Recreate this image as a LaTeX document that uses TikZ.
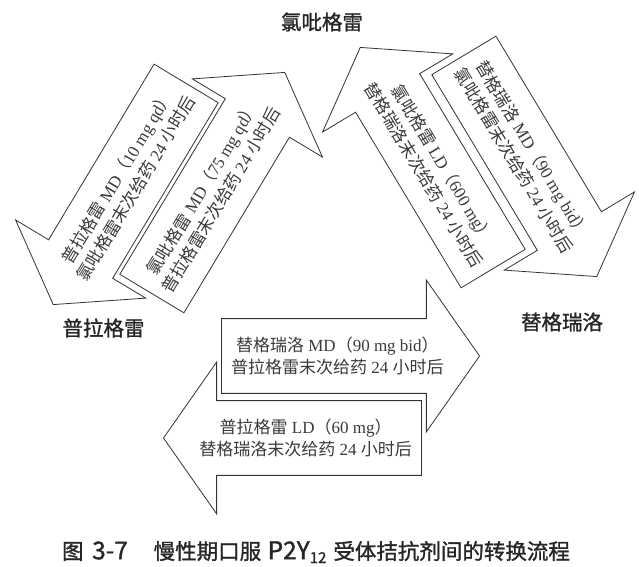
\documentclass[tikz,border=0pt]{standalone}
\usepackage{fontspec}
\setmainfont{Liberation Serif}
\newfontfamily\zhfont{Noto Sans CJK SC}
\newfontfamily\zhmed[FakeBold=1.3]{Noto Sans CJK SC}
\usetikzlibrary{shapes.arrows}
\definecolor{ArrowLine}{HTML}{333333}
\definecolor{ArrowText}{HTML}{3A3A3A}
\newcommand{\zh}[1]{{\zhfont #1}}
\newcommand{\capl}[1]{{\fontsize{24.5}{26}\selectfont #1}}

\begin{document}
\begin{tikzpicture}[
  x=1pt, y=1pt,
  blockarrow/.style={single arrow, draw=ArrowLine, line width=0.8pt, fill=white,
    align=center, text=ArrowText, font=\fontsize{17}{22}\selectfont,
    minimum height=258pt, inner ysep=18pt, inner xsep=2pt,
    single arrow head extend=38.5pt, single arrow tip angle=110, anchor=tip},
  back/.style={shape border rotate=180},
  drug/.style={font=\zhmed\fontsize{20.5}{24}\selectfont, text=black!85},
  caption/.style={font=\zhmed\fontsize{21.5}{25}\selectfont, text=black!85}
]
\useasboundingbox (0,0) rectangle (639,566);

% clopidogrel <-> prasugrel
\node[blockarrow, back, rotate=59] (pmd) at (53,261)
  {\zh{普拉格雷} MD\zh{（}10 mg qd\zh{）}\\\zh{氯吡格雷末次给药} 24 \zh{小时后}};
\node[blockarrow, rotate=59] (cmd) at (285,494)
  {\zh{氯吡格雷} MD\zh{（}75 mg qd\zh{）}\\\zh{普拉格雷末次给药} 24 \zh{小时后}};

% clopidogrel <-> ticagrelor
\node[blockarrow, back, rotate=-59] (cld) at (360,519)
  {\zh{氯吡格雷} LD\zh{（}600 mg\zh{）}\\\zh{替格瑞洛末次给药} 24 \zh{小时后}};
\node[blockarrow, rotate=-59] (tmda) at (597,289)
  {\zh{替格瑞洛} MD\zh{（}90 mg bid\zh{）}\\\zh{氯吡格雷末次给药} 24 \zh{小时后}};

% prasugrel <-> ticagrelor
\node[blockarrow] (tmdb) at (480,210)
  {\zh{替格瑞洛} MD\zh{（}90 mg bid\zh{）}\\\zh{普拉格雷末次给药} 24 \zh{小时后}};
\node[blockarrow, back] (pld) at (163,128)
  {\zh{普拉格雷} LD\zh{（}60 mg\zh{）}\\\zh{替格瑞洛末次给药} 24 \zh{小时后}};

\node[drug] (clop) at (322,544) {氯吡格雷};
\node[drug] (pras) at (103.5,238) {普拉格雷};
\node[drug] (tica) at (562,244) {替格瑞洛};

\node[caption] (cap) at (316,14)
  {图\hspace{0.4em}\capl{3-7}\hspace{1.2em}慢性期口服\hspace{0.3em}\capl{P2Y}\textsubscript{12}\hspace{0.3em}受体拮抗剂间的转换流程};
\end{tikzpicture}
\end{document}
